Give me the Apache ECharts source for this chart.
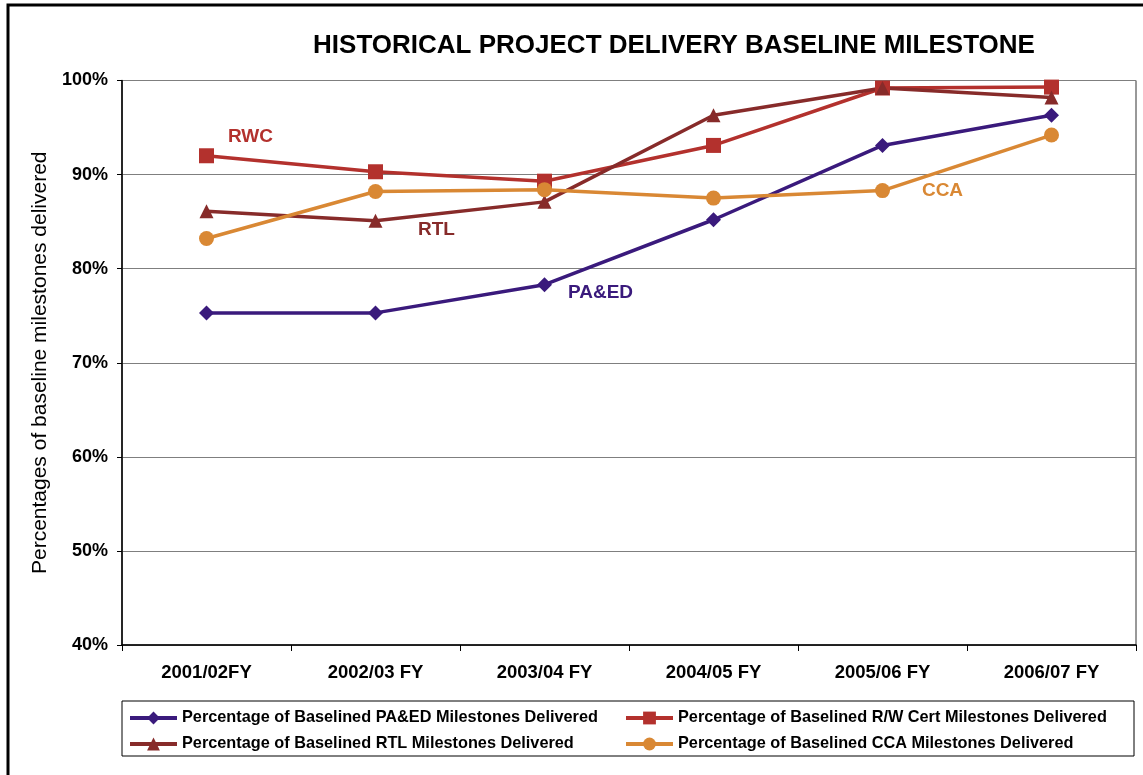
<!DOCTYPE html>
<html>
<head>
<meta charset="utf-8">
<script src="https://cdn.jsdelivr.net/npm/echarts@6/dist/echarts.min.js"></script>
<style>html,body{margin:0;padding:0;background:#fff;}#c{width:1143px;height:775px;}</style>
</head>
<body>
<div id="c"></div>
<script>
const categories = ['2001/02FY', '2002/03 FY', '2003/04 FY', '2004/05 FY', '2005/06 FY', '2006/07 FY'];
const paedValues = [75.3, 75.3, 78.3, 85.2, 93.1, 96.3];
const rwcValues = [92.0, 90.3, 89.3, 93.1, 99.2, 99.3];
const rtlValues = [86.1, 85.1, 87.1, 96.3, 99.2, 98.2];
const ccaValues = [83.2, 88.2, 88.4, 87.5, 88.3, 94.2];
const seriesNames = [
  'Percentage of Baselined PA&ED Milestones Delivered',
  'Percentage of Baselined R/W Cert Milestones Delivered',
  'Percentage of Baselined RTL Milestones Delivered',
  'Percentage of Baselined CCA Milestones Delivered'
];
const yTicks = [40, 50, 60, 70, 80, 90, 100];

const colors = ['#3a1a7c', '#b3312d', '#872b2a', '#d98834'];
const font = 'Liberation Sans, Arial, sans-serif';

function withLabel(values, idx, text, color, offset) {
  return values.map((v, i) => i === idx ? {
    value: v,
    label: { show: true, formatter: text, color: color, fontWeight: 'bold', fontSize: 19,
      fontFamily: font, position: 'inside', offset: offset }
  } : v);
}

const chart = echarts.init(document.getElementById('c'), null, { renderer: 'canvas' });
const legendText = { fontFamily: font, fontWeight: 'bold', fontSize: 16.3, color: '#000' };

chart.setOption({
  animation: false,
  backgroundColor: '#fff',
  title: {
    text: 'HISTORICAL PROJECT DELIVERY BASELINE MILESTONE',
    left: 669, top: 28, textAlign: 'center',
    textStyle: { fontFamily: font, fontWeight: 'bold', fontSize: 26, color: '#000' }
  },
  graphic: [
    { type: 'rect', shape: { x: 8, y: 5, width: 1145, height: 790 }, style: { fill: 'none', stroke: '#000', lineWidth: 3 }, silent: true },
    { type: 'rect', shape: { x: 122, y: 701, width: 1012, height: 55 }, style: { fill: 'none', stroke: '#000', lineWidth: 1 }, silent: true }
  ],
  legend: [
    {
      data: [seriesNames[0], seriesNames[2]], orient: 'vertical', left: 128, top: 710, padding: 0,
      itemWidth: 47, itemHeight: 16, itemGap: 10,
      lineStyle: { width: 4 },
      textStyle: legendText
    },
    {
      data: [seriesNames[1], seriesNames[3]], orient: 'vertical', left: 624, top: 710, padding: 0,
      itemWidth: 47, itemHeight: 16, itemGap: 10,
      lineStyle: { width: 4 },
      textStyle: legendText
    }
  ],
  grid: { left: 122, top: 80.5, right: 7, bottom: 130, show: true, borderColor: '#333', borderWidth: 1 },
  xAxis: {
    type: 'category', data: categories, boundaryGap: true,
    axisLine: { lineStyle: { color: '#000', width: 1.5 } },
    axisTick: { show: true, length: 6, lineStyle: { color: '#000' } },
    axisLabel: { margin: 18, fontFamily: font, fontWeight: 'bold', fontSize: 18.5, color: '#000' }
  },
  yAxis: {
    type: 'value', min: yTicks[0], max: yTicks[yTicks.length - 1], interval: 10,
    name: 'Percentages of baseline milestones delivered', nameLocation: 'middle', nameGap: 70, nameRotate: 90,
    nameTextStyle: { fontFamily: font, fontSize: 21, color: '#000' },
    axisLine: { show: true, lineStyle: { color: '#000', width: 1.5 } },
    axisTick: { show: true, length: 5, lineStyle: { color: '#000' } },
    axisLabel: { margin: 14, formatter: '{value}%', fontFamily: font, fontWeight: 'bold', fontSize: 18, color: '#000' },
    splitLine: { show: true, lineStyle: { color: '#7f7f7f', width: 1.2 } }
  },
  series: [
    { name: seriesNames[0], type: 'line', data: withLabel(paedValues, 2, 'PA&ED', colors[0], [56, 8]),
      symbol: 'diamond', symbolSize: 15, color: colors[0], lineStyle: { width: 3.5 } },
    { name: seriesNames[1], type: 'line', data: withLabel(rwcValues, 0, 'RWC', colors[1], [44, -19]),
      symbol: 'rect', symbolSize: 15, color: colors[1], lineStyle: { width: 3.5 } },
    { name: seriesNames[2], type: 'line', data: withLabel(rtlValues, 1, 'RTL', colors[2], [61, 9]),
      symbol: 'triangle', symbolSize: 14, color: colors[2], lineStyle: { width: 3.5 } },
    { name: seriesNames[3], type: 'line', data: withLabel(ccaValues, 4, 'CCA', colors[3], [60, 0]),
      symbol: 'circle', symbolSize: 15, color: colors[3], lineStyle: { width: 3.5 } }
  ]
});
</script>
</body>
</html>
